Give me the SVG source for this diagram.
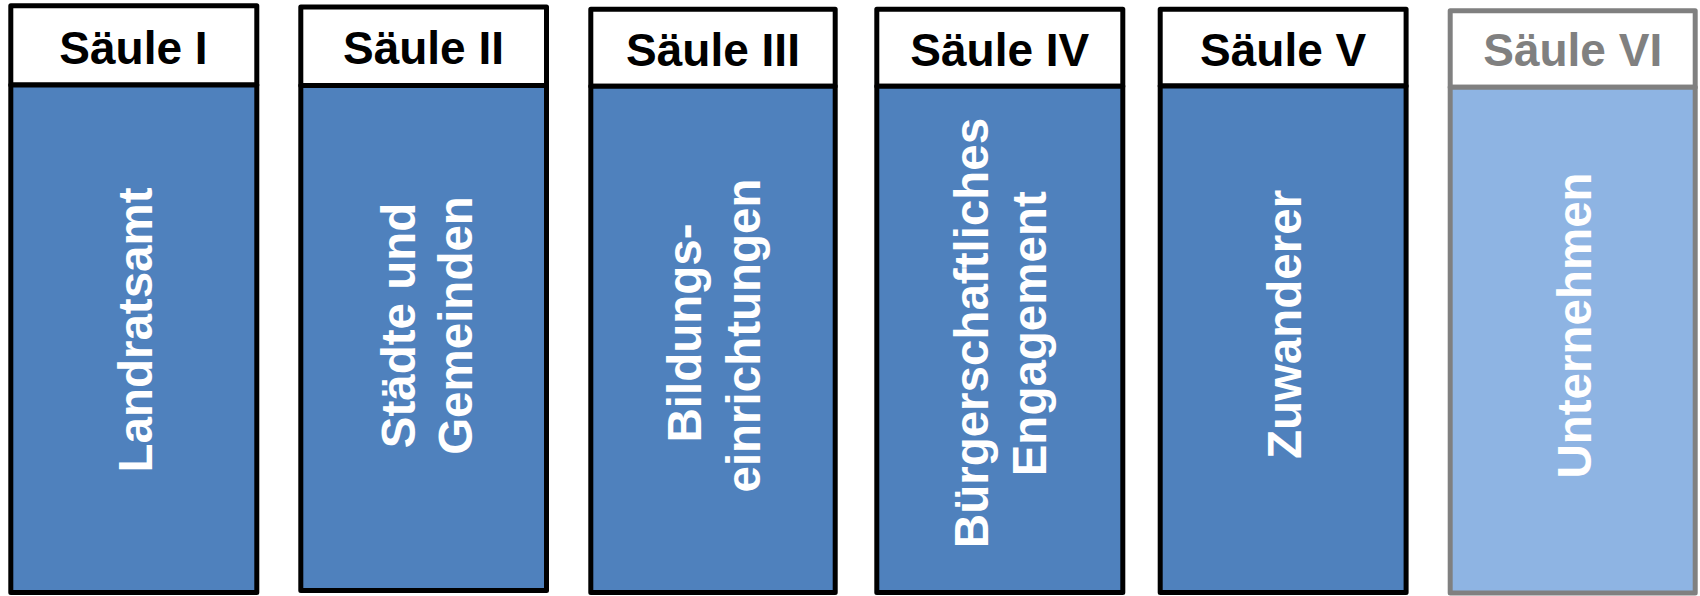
<svg xmlns="http://www.w3.org/2000/svg" width="1700" height="596" viewBox="0 0 1700 596">
<style>
.box{stroke:#000;stroke-width:5;stroke-linejoin:round}
.grey .box{stroke:#808080}
.head{fill:#fff}
.body{fill:#4F81BD}
.grey .body{fill:#8EB4E3}
.ht{font-family:"Liberation Sans",Arial,sans-serif;font-weight:bold;font-size:46px;text-anchor:middle;fill:#000}
.grey .ht{fill:#808080}
.bt{font-family:"Liberation Sans",Arial,sans-serif;font-weight:bold;font-size:47.5px;text-anchor:middle;fill:#fff}
</style>
<rect width="1700" height="596" fill="#fff"/>
<g id="saeule1">
<rect class="box head" x="10.8" y="5.8" width="246" height="79.2"/>
<rect class="box body" x="10.8" y="85" width="246" height="507.5"/>
<text class="ht" x="133.5" y="63.5">Säule I</text>
<text class="bt" transform="translate(151.7,330) rotate(-90)">Landratsamt</text>
</g>
<g id="saeule2">
<rect class="box head" x="300.8" y="7" width="245.7" height="78.5"/>
<rect class="box body" x="300.8" y="85.5" width="245.7" height="505"/>
<text class="ht" x="423.5" y="64">Säule II</text>
<text class="bt" transform="translate(415.4,325.5) rotate(-90)">Städte und</text>
<text class="bt" transform="translate(472,325.5) rotate(-90)">Gemeinden</text>
</g>
<g id="saeule3">
<rect class="box head" x="590.8" y="9.2" width="244.4" height="77.1"/>
<rect class="box body" x="590.8" y="86.3" width="244.4" height="506.2"/>
<text class="ht" x="713" y="65.7">Säule III</text>
<text class="bt" transform="translate(701,333) rotate(-90)">Bildungs-</text>
<text class="bt" transform="translate(759.7,335.5) rotate(-90)">einrichtungen</text>
</g>
<g id="saeule4">
<rect class="box head" x="876.8" y="9.2" width="246" height="77.1"/>
<rect class="box body" x="876.8" y="86.3" width="246" height="506.2"/>
<text class="ht" x="999.8" y="65.7">Säule IV</text>
<text class="bt" transform="translate(988,333) rotate(-90)">Bürgerschaftliches</text>
<text class="bt" transform="translate(1046.4,333.8) rotate(-90)">Engagement</text>
</g>
<g id="saeule5">
<rect class="box head" x="1160.2" y="9.2" width="245.9" height="76.8"/>
<rect class="box body" x="1160.2" y="86" width="245.9" height="506.5"/>
<text class="ht" x="1283.2" y="65.7">Säule V</text>
<text class="bt" transform="translate(1301.4,324.5) rotate(-90)">Zuwanderer</text>
</g>
<g id="saeule6" class="grey">
<rect class="box head" x="1450.2" y="10.8" width="245" height="76.5"/>
<rect class="box body" x="1450.2" y="87.3" width="245" height="505.7"/>
<text class="ht" x="1572.7" y="65.5">Säule VI</text>
<text class="bt" transform="translate(1590.7,325.5) rotate(-90)">Unternehmen</text>
</g>
<g id="connectors"/>
</svg>
